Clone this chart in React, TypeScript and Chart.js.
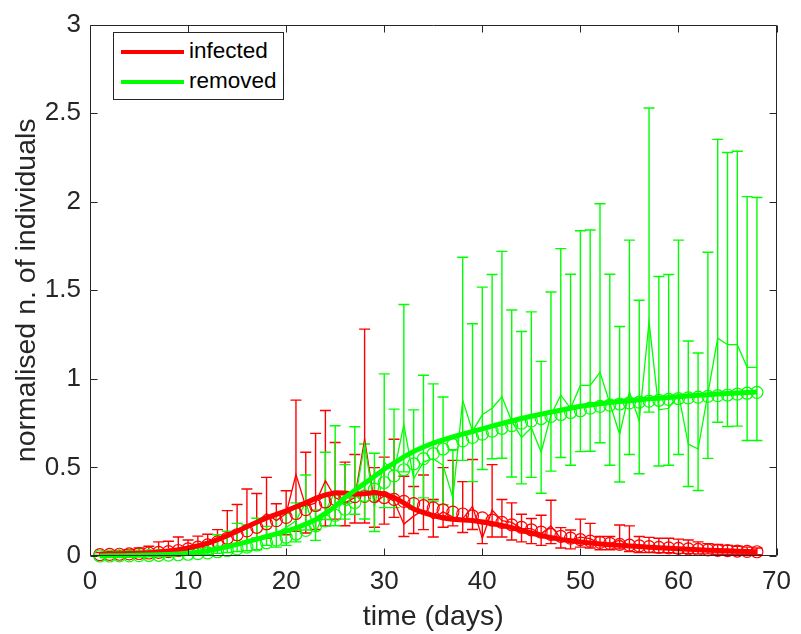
import React, { useEffect, useRef } from "react";
import { Chart, registerables } from "chart.js";

Chart.register(...registerables);

const RED = "#FF0000";
const GREEN = "#00FF00";
const AXIS = "#262626";
const FONT = "'Liberation Sans', Arial, Helvetica, sans-serif";

const days = [
  1, 2, 3, 4, 5, 6, 7, 8, 9, 10, 11, 12, 13, 14, 15, 16, 17, 18, 19, 20,
  21, 22, 23, 24, 25, 26, 27, 28, 29, 30, 31, 32, 33, 34, 35, 36, 37, 38, 39, 40,
  41, 42, 43, 44, 45, 46, 47, 48, 49, 50, 51, 52, 53, 54, 55, 56, 57, 58, 59, 60,
  61, 62, 63, 64, 65, 66, 67, 68,
];
const xTicks = [0, 10, 20, 30, 40, 50, 60, 70];
const yTicks = [0, 0.5, 1, 1.5, 2, 2.5, 3];

// model curves (thick lines)
const infectedModel = [
  0.010, 0.011, 0.012, 0.014, 0.016, 0.019, 0.023, 0.028, 0.035, 0.045,
  0.057, 0.072, 0.092, 0.115, 0.140, 0.165, 0.190, 0.215, 0.235, 0.255,
  0.278, 0.300, 0.325, 0.345, 0.357, 0.356, 0.348, 0.352, 0.358, 0.350,
  0.330, 0.300, 0.265, 0.245, 0.228, 0.215, 0.208, 0.203, 0.200, 0.192,
  0.183, 0.172, 0.160, 0.145, 0.130, 0.116, 0.104, 0.094, 0.086, 0.079,
  0.073, 0.068, 0.064, 0.060, 0.057, 0.053, 0.050, 0.047, 0.044, 0.041,
  0.038, 0.035, 0.033, 0.031, 0.029, 0.027, 0.025, 0.024,
];
const removedModel = [
  0.000, 0.001, 0.002, 0.003, 0.004, 0.005, 0.007, 0.009, 0.012, 0.016,
  0.022, 0.030, 0.040, 0.052, 0.066, 0.080, 0.095, 0.110, 0.125, 0.140,
  0.158, 0.180, 0.205, 0.240, 0.280, 0.330, 0.370, 0.410, 0.450, 0.490,
  0.525, 0.560, 0.590, 0.615, 0.638, 0.655, 0.672, 0.688, 0.703, 0.718,
  0.733, 0.748, 0.762, 0.776, 0.789, 0.801, 0.812, 0.823, 0.834, 0.845,
  0.853, 0.860, 0.866, 0.872, 0.877, 0.882, 0.887, 0.891, 0.895, 0.899,
  0.903, 0.907, 0.910, 0.914, 0.917, 0.920, 0.923, 0.926,
];

// circle markers
const infectedCircles = [
  0.008, 0.009, 0.010, 0.012, 0.014, 0.017, 0.020, 0.025, 0.031, 0.040,
  0.050, 0.063, 0.080, 0.100, 0.120, 0.142, 0.162, 0.182, 0.200, 0.218,
  0.240, 0.262, 0.285, 0.305, 0.320, 0.330, 0.335, 0.337, 0.336, 0.330,
  0.320, 0.308, 0.296, 0.284, 0.272, 0.260, 0.248, 0.237, 0.226, 0.215,
  0.203, 0.190, 0.176, 0.162, 0.148, 0.135, 0.122, 0.111, 0.101, 0.092,
  0.084, 0.077, 0.071, 0.066, 0.061, 0.057, 0.053, 0.049, 0.046, 0.043,
  0.040, 0.037, 0.035, 0.032, 0.030, 0.028, 0.026, 0.024,
];
const removedCircles = [
  0.000, 0.000, 0.001, 0.001, 0.002, 0.003, 0.004, 0.005, 0.007, 0.010,
  0.013, 0.018, 0.024, 0.031, 0.040, 0.050, 0.062, 0.075, 0.090, 0.106,
  0.124, 0.145, 0.170, 0.198, 0.230, 0.265, 0.302, 0.340, 0.378, 0.415,
  0.452, 0.487, 0.520, 0.550, 0.578, 0.604, 0.628, 0.650, 0.670, 0.688,
  0.705, 0.721, 0.736, 0.750, 0.763, 0.776, 0.788, 0.799, 0.810, 0.820,
  0.835, 0.845, 0.852, 0.858, 0.864, 0.869, 0.874, 0.879, 0.884, 0.889,
  0.893, 0.897, 0.901, 0.905, 0.909, 0.914, 0.919, 0.924,
];

// observed data (thin lines) with error bars
const infectedData = [
  0.010, 0.012, 0.013, 0.015, 0.018, 0.020, 0.028, 0.030, 0.040, 0.045,
  0.060, 0.070, 0.090, 0.120, 0.140, 0.170, 0.190, 0.240, 0.200, 0.240,
  0.460, 0.280, 0.300, 0.425, 0.330, 0.300, 0.330, 0.660, 0.300, 0.340,
  0.310, 0.180, 0.225, 0.260, 0.210, 0.250, 0.220, 0.210, 0.280, 0.100,
  0.260, 0.200, 0.190, 0.155, 0.155, 0.125, 0.170, 0.100, 0.090, 0.107,
  0.098, 0.070, 0.070, 0.090, 0.060, 0.055, 0.050, 0.045, 0.045, 0.040,
  0.040, 0.035, 0.035, 0.030, 0.030, 0.028, 0.025, 0.025,
];
const infectedHigh = [
  0.020, 0.025, 0.030, 0.035, 0.045, 0.055, 0.080, 0.083, 0.107, 0.090,
  0.112, 0.123, 0.149, 0.256, 0.291, 0.378, 0.353, 0.444, 0.295, 0.368,
  0.880, 0.586, 0.692, 0.821, 0.641, 0.530, 0.573, 1.281, 0.499, 0.558,
  0.659, 0.450, 0.392, 0.457, 0.319, 0.499, 0.540, 0.420, 0.545, 0.200,
  0.516, 0.319, 0.300, 0.236, 0.212, 0.230, 0.315, 0.160, 0.147, 0.208,
  0.184, 0.110, 0.110, 0.175, 0.170, 0.110, 0.105, 0.100, 0.100, 0.095,
  0.090, 0.080, 0.070, 0.065, 0.060, 0.055, 0.050, 0.045,
];
const infectedLow = [
  0.002, 0.003, 0.004, 0.005, 0.006, 0.008, 0.010, 0.012, 0.015, 0.020,
  0.025, 0.030, 0.040, 0.060, 0.070, 0.080, 0.100, 0.100, 0.120, 0.120,
  0.140, 0.130, 0.150, 0.170, 0.208, 0.171, 0.186, 0.186, 0.162, 0.180,
  0.218, 0.110, 0.127, 0.149, 0.107, 0.162, 0.170, 0.133, 0.150, 0.070,
  0.107, 0.107, 0.090, 0.080, 0.070, 0.060, 0.070, 0.045, 0.040, 0.050,
  0.045, 0.035, 0.035, 0.040, 0.025, 0.020, 0.020, 0.018, 0.018, 0.015,
  0.015, 0.012, 0.012, 0.010, 0.010, 0.010, 0.008, 0.008,
];
const removedData = [
  0.000, 0.001, 0.002, 0.003, 0.004, 0.006, 0.008, 0.010, 0.013, 0.018,
  0.025, 0.032, 0.045, 0.055, 0.075, 0.080, 0.100, 0.100, 0.130, 0.160,
  0.200, 0.300, 0.134, 0.254, 0.365, 0.280, 0.309, 0.630, 0.280, 0.530,
  0.475, 0.742, 0.436, 0.530, 0.549, 0.512, 0.328, 0.880, 0.705, 0.797,
  0.834, 0.899, 0.761, 0.669, 0.724, 0.586, 0.797, 0.908, 0.834, 0.963,
  0.963, 1.037, 0.862, 0.687, 0.926, 0.761, 1.322, 0.825, 0.834, 0.917,
  0.632, 0.604, 0.917, 1.230, 1.193, 1.193, 1.065, 1.065,
];
const removedHigh = [
  0.005, 0.008, 0.010, 0.012, 0.015, 0.020, 0.025, 0.030, 0.040, 0.050,
  0.065, 0.080, 0.120, 0.140, 0.184, 0.175, 0.213, 0.167, 0.232, 0.240,
  0.300, 0.457, 0.260, 0.586, 0.735, 0.516, 0.730, 0.632, 0.580, 1.028,
  0.829, 1.420, 0.825, 1.020, 0.972, 0.898, 0.600, 1.687, 1.311, 1.518,
  1.589, 1.720, 1.389, 1.267, 1.378, 1.099, 1.490, 1.735, 1.591, 1.836,
  1.840, 1.989, 1.591, 1.296, 1.783, 1.444, 2.529, 1.578, 1.589, 1.783,
  1.214, 1.146, 1.715, 2.352, 2.278, 2.285, 2.029, 2.024,
];
const removedLow = [
  0.000, 0.000, 0.000, 0.000, 0.000, 0.000, 0.000, 0.002, 0.004, 0.006,
  0.008, 0.010, 0.015, 0.020, 0.025, 0.030, 0.035, 0.060, 0.050, 0.060,
  0.080, 0.147, 0.088, 0.206, 0.171, 0.208, 0.236, 0.209, 0.138, 0.273,
  0.273, 0.475, 0.265, 0.328, 0.310, 0.290, 0.200, 0.540, 0.420, 0.488,
  0.549, 0.552, 0.446, 0.407, 0.444, 0.354, 0.479, 0.556, 0.512, 0.589,
  0.591, 0.639, 0.512, 0.418, 0.573, 0.464, 0.812, 0.508, 0.512, 0.573,
  0.392, 0.370, 0.551, 0.755, 0.731, 0.733, 0.652, 0.652,
];

const pts = (vals: number[]) => days.map((d, i) => ({ x: d, y: vals[i] }));

const CAP = 5.5;
const TICK = 7;

const errorBarPlugin = {
  id: "errorBars",
  beforeDatasetsDraw(chart: any) {
    const { ctx, scales } = chart;
    const xs = scales.x;
    const ys = scales.y;
    const draw = (lo: number[], hi: number[], color: string) => {
      ctx.save();
      ctx.strokeStyle = color;
      ctx.lineWidth = 1.4;
      ctx.beginPath();
      days.forEach((d, i) => {
        const px = xs.getPixelForValue(d);
        const pl = ys.getPixelForValue(lo[i]);
        const ph = ys.getPixelForValue(hi[i]);
        ctx.moveTo(px, pl);
        ctx.lineTo(px, ph);
        ctx.moveTo(px - CAP, pl);
        ctx.lineTo(px + CAP, pl);
        ctx.moveTo(px - CAP, ph);
        ctx.lineTo(px + CAP, ph);
      });
      ctx.stroke();
      ctx.restore();
    };
    draw(infectedLow, infectedHigh, RED);
    draw(removedLow, removedHigh, GREEN);
  },
};

const axesBoxPlugin = {
  id: "axesBox",
  afterDatasetsDraw(chart: any) {
    const { ctx, chartArea, scales } = chart;
    const { left, right, top, bottom } = chartArea;
    ctx.save();
    ctx.strokeStyle = AXIS;
    ctx.lineWidth = 1;
    ctx.beginPath();
    const L = Math.round(left) + 0.5;
    const R = Math.round(right) - 0.5;
    const T = Math.round(top) + 0.5;
    const B = Math.round(bottom) - 0.5;
    ctx.rect(L, T, R - L, B - T);
    scales.x.ticks.forEach((t: any) => {
      const px = Math.round(scales.x.getPixelForValue(t.value)) + 0.5;
      ctx.moveTo(px, B);
      ctx.lineTo(px, B - TICK);
      ctx.moveTo(px, T);
      ctx.lineTo(px, T + TICK);
    });
    scales.y.ticks.forEach((t: any) => {
      const py = Math.round(scales.y.getPixelForValue(t.value)) + 0.5;
      ctx.moveTo(L, py);
      ctx.lineTo(L + TICK, py);
      ctx.moveTo(R, py);
      ctx.lineTo(R - TICK, py);
    });
    ctx.stroke();
    ctx.restore();
  },
};

export default function App() {
  const canvasRef = useRef<HTMLCanvasElement | null>(null);

  useEffect(() => {
    const canvas = canvasRef.current;
    if (!canvas) return;
    const circleSet = (label: string, vals: number[], color: string, order: number) => ({
      label,
      data: pts(vals),
      showLine: false,
      borderColor: color,
      backgroundColor: "rgba(0,0,0,0)",
      pointRadius: 6,
      pointBorderWidth: 1.2,
      pointBorderColor: color,
      pointBackgroundColor: "rgba(0,0,0,0)",
      order,
      clip: false,
    });
    const chart = new Chart(canvas, {
      type: "line",
      data: {
        datasets: [
          {
            label: "removed",
            data: pts(removedModel),
            borderColor: GREEN,
            backgroundColor: GREEN,
            borderWidth: 5,
            pointRadius: 0,
            order: 1,
            clip: false,
          },
          {
            label: "infected",
            data: pts(infectedModel),
            borderColor: RED,
            backgroundColor: RED,
            borderWidth: 5,
            pointRadius: 0,
            order: 2,
            clip: false,
          },
          circleSet("removed circles", removedCircles, GREEN, 3),
          circleSet("infected circles", infectedCircles, RED, 4),
          {
            label: "removed data",
            data: pts(removedData),
            borderColor: GREEN,
            borderWidth: 1.3,
            pointRadius: 0,
            order: 5,
          },
          {
            label: "infected data",
            data: pts(infectedData),
            borderColor: RED,
            borderWidth: 1.3,
            pointRadius: 0,
            order: 6,
          },
        ],
      },
      options: {
        responsive: false,
        animation: false,
        events: [],
        layout: { padding: { top: 13, right: 20, left: 0, bottom: 0 } },
        plugins: {
          legend: { display: false },
          tooltip: { enabled: false },
        },
        scales: {
          x: {
            type: "linear",
            min: 0,
            max: 70,
            afterBuildTicks: (s: any) => {
              s.ticks = xTicks.map((v) => ({ value: v }));
            },
            ticks: {
              font: { family: FONT, size: 26 },
              color: AXIS,
              padding: 10,
              maxRotation: 0,
              autoSkip: false,
              callback: (v: any) => String(v),
            },
            grid: { display: false, drawTicks: false },
            border: { display: false },
            title: {
              display: true,
              text: "time (days)",
              font: { family: FONT, size: 28.5 },
              color: AXIS,
              padding: { top: 0, bottom: 0 },
            },
            afterFit: (s: any) => {
              s.height = 78;
            },
          },
          y: {
            type: "linear",
            min: 0,
            max: 3,
            afterBuildTicks: (s: any) => {
              s.ticks = yTicks.map((v) => ({ value: v }));
            },
            ticks: {
              font: { family: FONT, size: 26 },
              color: AXIS,
              padding: 9,
              autoSkip: false,
              callback: (v: any) => String(v),
            },
            grid: { display: false, drawTicks: false },
            border: { display: false },
            title: {
              display: true,
              text: "normalised n. of individuals",
              font: { family: FONT, size: 28.5 },
              color: AXIS,
              padding: { top: 10, bottom: 0 },
            },
            afterFit: (s: any) => {
              s.width = 90;
            },
          },
        },
      },
      plugins: [errorBarPlugin, axesBoxPlugin],
    } as any);
    return () => chart.destroy();
  }, []);

  const legendText: React.CSSProperties = {
    position: "absolute",
    left: 75,
    fontFamily: FONT,
    fontSize: 22.5,
    color: "#000",
    lineHeight: "26px",
    whiteSpace: "nowrap",
  };
  const swatch = (color: string, top: number): React.CSSProperties => ({
    position: "absolute",
    left: 7,
    top,
    width: 63,
    height: 4,
    background: color,
  });

  return (
    <div style={{ position: "absolute", left: 0, top: 0, width: 801, height: 634, background: "#fff" }}>
      <canvas ref={canvasRef} width={801} height={634} style={{ display: "block", width: 801, height: 634 }} />
      <div
        style={{
          position: "absolute",
          left: 113,
          top: 32,
          width: 169,
          height: 66,
          border: `1px solid ${AXIS}`,
          background: "#fff",
          boxSizing: "content-box",
        }}
      >
        <div style={swatch(RED, 17)} />
        <div style={{ ...legendText, top: 5 }}>infected</div>
        <div style={swatch(GREEN, 47)} />
        <div style={{ ...legendText, top: 35 }}>removed</div>
      </div>
    </div>
  );
}
